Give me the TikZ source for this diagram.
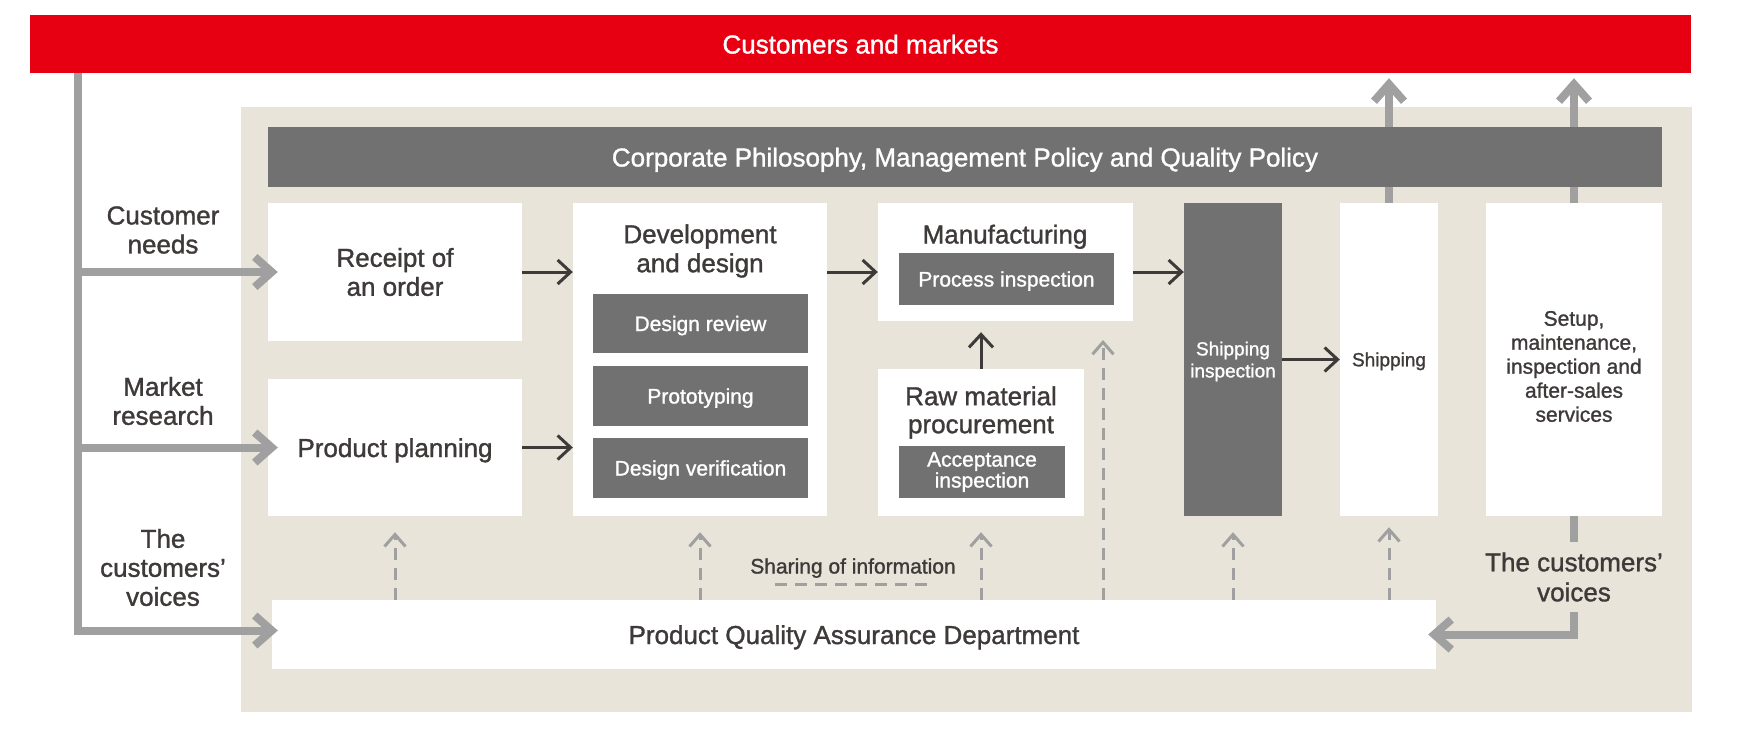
\documentclass[tikz,border=0pt]{standalone}
\usepackage{fontspec}
\setmainfont{Liberation Sans}[FakeBold=1.2]
\usetikzlibrary{arrows.meta,calc}
\definecolor{brandred}{HTML}{E60012}
\definecolor{beigebg}{HTML}{E8E4D9}
\definecolor{darkbox}{HTML}{717171}
\definecolor{lightline}{HTML}{A0A0A0}
\definecolor{ink}{HTML}{3E3A39}
\newcommand{\bigtxt}{\fontsize{26pt}{29pt}\selectfont}
\newcommand{\midtxt}{\fontsize{21pt}{24pt}\selectfont}
\newcommand{\smalltxt}{\fontsize{19pt}{22pt}\selectfont}
\begin{document}
\begin{tikzpicture}[x=1pt,y=-1pt,
  wbox/.style={fill=white, inner sep=0pt, text=ink, align=center, font=\bigtxt},
  gbox/.style={fill=darkbox, inner sep=0pt, text=white, align=center, font=\midtxt},
  txt/.style={inner sep=0pt, text=ink, align=center, font=\bigtxt},
  oneline/.style={text height=19pt, text depth=0pt},
  onemid/.style={text height=15pt, text depth=0pt},
  gline/.style={draw=lightline, line width=8pt},
  garrow/.style={gline, -{Straight Barb[length=17pt,width=30pt,line width=8pt]}},
  darrow/.style={draw=ink, line width=3pt, -{Straight Barb[length=13pt,width=24pt,line width=3pt]}},
  dgline/.style={draw=lightline, line width=3pt, dash pattern=on 12pt off 8pt},
  dgarrow/.style={dgline, -{Straight Barb[length=12pt,width=21pt,line width=3pt]}},
]
\useasboundingbox (0,0) rectangle (1744,737);
\fill[white] (0,0) rectangle (1744,737);

\node[fill=brandred, minimum width=1661pt, minimum height=58pt, inner sep=0pt, text=white, font=\bigtxt, oneline] (market) at (860.5,44) {Customers and markets};
\node[fill=beigebg, minimum width=1451pt, minimum height=605pt, inner sep=0pt] (frame) at (966.5,409.5) {};
\node[fill=darkbox, minimum width=1394pt, minimum height=60pt, inner sep=0pt, text=white, font=\bigtxt, oneline] (policy) at (965,157) {Corporate Philosophy, Management Policy and Quality Policy};

\node[wbox, minimum width=254pt, minimum height=138pt] (receipt) at (395,272) {Receipt of\\an order};
\node[wbox, minimum width=254pt, minimum height=137pt, oneline] (planning) at (395,447.5) {Product planning};
\node[wbox, minimum width=254pt, minimum height=313pt] (dev) at (700,359.5) {};
\node[txt] (devtitle) at (700,251) {Development\\and design};
\node[gbox, minimum width=215pt, minimum height=59pt, onemid] (review) at (700.5,323.5) {Design review};
\node[gbox, minimum width=215pt, minimum height=60pt, onemid] (proto) at (700.5,396) {Prototyping};
\node[gbox, minimum width=215pt, minimum height=60pt, onemid] (verif) at (700.5,468) {Design verification};
\node[wbox, minimum width=255pt, minimum height=118pt] (manuf) at (1005.5,262) {};
\node[txt, oneline] (manuftitle) at (1005,234) {Manufacturing};
\node[gbox, minimum width=215pt, minimum height=52pt, onemid] (procinsp) at (1006.5,279) {Process inspection};
\node[wbox, minimum width=206pt, minimum height=147pt] (raw) at (981,442.5) {};
\node[txt, font=\fontsize{26pt}{28pt}\selectfont] (rawtitle) at (981,412.5) {Raw material\\procurement};
\node[gbox, minimum width=166pt, minimum height=52pt, font=\fontsize{21pt}{21pt}\selectfont] (accept) at (982,472) {Acceptance\\inspection};
\node[gbox, minimum width=98pt, minimum height=313pt] (shipinsp) at (1233,359.5) {};
\node[inner sep=0pt, text=white, align=center, font=\smalltxt] (shipinsptext) at (1233,361.5) {Shipping\\inspection};
\node[wbox, minimum width=98pt, minimum height=313pt, font=\smalltxt, text height=13.5pt, text depth=0pt] (ship) at (1389,359.5) {Shipping};
\node[wbox, minimum width=176pt, minimum height=313pt] (setup) at (1574,359.5) {};
\node[txt, font=\midtxt] (setuptext) at (1574,366.5) {Setup,\\maintenance,\\inspection and\\after-sales\\services};
\node[wbox, minimum width=1164pt, minimum height=69pt, oneline] (pqa) at (854,634.5) {Product Quality Assurance Department};

\node[txt] (needs) at (163,230) {Customer\\needs};
\node[txt] (research) at (163,401) {Market\\research};
\node[txt] (lvoices) at (163,567.5) {The\\customers’\\voices};
\node[txt, minimum height=70pt, font=\fontsize{26pt}{30pt}\selectfont] (rvoices) at (1574,577) {The customers’\\voices};
\node[txt, font=\midtxt, onemid] (share) at (853,566) {Sharing of information};

% left trunk
\coordinate (trunk) at (77.5,73);
\draw[garrow] (trunk) |- ($(pqa.west)+(6,-4)$);
\draw[garrow] (trunk |- receipt.west) -- ($(receipt.west)+(10,0)$);
\draw[garrow] (trunk |- planning.west) -- ($(planning.west)+(10,0)$);

% up arrows to customers and markets
\draw[gline] (ship.north) -- (ship.north |- policy.south);
\draw[garrow] (ship.north |- policy.north) -- ($(ship.north |- market.south)+(0,5)$);
\draw[gline] (setup.north) -- (setup.north |- policy.south);
\draw[garrow] (setup.north |- policy.north) -- ($(setup.north |- market.south)+(0,5)$);

% right voices
\draw[gline] (setup.south) -- (rvoices.north);
\draw[garrow] (rvoices.south) |- ($(pqa.east)+(-8,0)$);

% process flow
\draw[darrow] (receipt.east) -- (receipt.east -| dev.west);
\draw[darrow] (planning.east) -- (planning.east -| dev.west);
\draw[darrow] (receipt.east -| dev.east) -- (receipt.east -| manuf.west);
\draw[darrow] (receipt.east -| manuf.east) -- (receipt.east -| shipinsp.west);
\draw[darrow] (shipinsp.east) -- (ship.west);
\draw[darrow] (raw.north) -- ($(raw.north |- manuf.south)+(0,11)$);

% information sharing
\draw[dgarrow] (pqa.north -| planning.south) -- ($(planning.south)+(0,16)$);
\draw[dgarrow] (pqa.north -| dev.south) -- ($(dev.south)+(0,16)$);
\draw[dgarrow] (pqa.north -| raw.south) -- ($(raw.south)+(0,16)$);
\coordinate (mtip) at (1103,340);
\draw[dgarrow] (pqa.north -| mtip) -- (mtip);
\draw[dgarrow] (pqa.north -| shipinsp.south) -- ($(shipinsp.south)+(0,16)$);
\draw[dgarrow] (pqa.north -| ship.south) -- ($(ship.south)+(0,11)$);
\draw[dgline] ($(share.south)+(-78,11)$) -- ($(share.south)+(79,11)$);
\end{tikzpicture}
\end{document}
